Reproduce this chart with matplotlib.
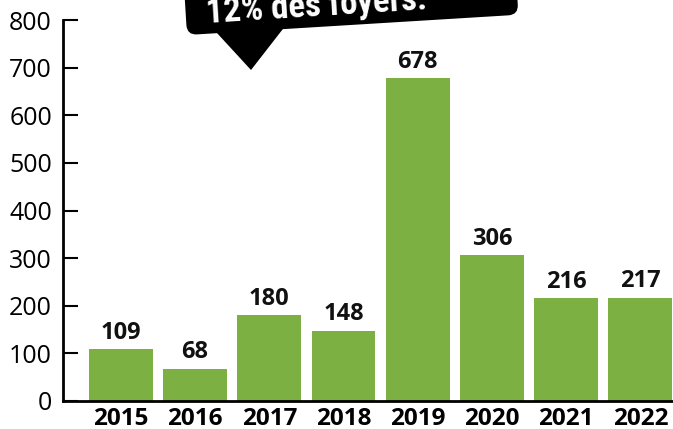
import matplotlib.pyplot as plt
from matplotlib.patches import FancyBboxPatch, Polygon
from matplotlib.transforms import Affine2D
from matplotlib import font_manager

### données
annees = ['2015', '2016', '2017', '2018', '2019', '2020', '2021', '2022']
valeurs = [109, 68, 180, 148, 678, 306, 216, 217]
graduations = [0, 100, 200, 300, 400, 500, 600, 700, 800]

vert = '#7cb042'

plt.rcParams['font.family'] = ['Open Sans', 'DejaVu Sans']

# police étroite pour la bulle si dispo
installees = {f.name for f in font_manager.fontManager.ttflist}
etroites = [n for n in ['DejaVu Sans Condensed', 'Liberation Sans Narrow', 'Roboto Condensed'] if n in installees]
if etroites:
    police_bulle, taille_bulle = etroites[0], 25
else:
    police_bulle, taille_bulle = 'Roboto', 22

fig = plt.figure(figsize=(6.73, 4.29), dpi=100)
ax = fig.add_axes([63 / 673, 28 / 429, 1 - 63 / 673, (401 - 20) / 429])

pos = list(range(len(annees)))
barres = ax.bar(pos, valeurs, width=0.86, color=vert, zorder=2)

### étiquettes au-dessus des barres
for x, v in zip(pos, valeurs):
    ax.annotate(str(v), (x, v), xytext=(0, 3), textcoords='offset points',
                ha='center', va='bottom', fontsize=17, fontweight='bold', color='#111111')

ax.set_xlim(-0.78, 7.44)
ax.set_ylim(0, 800)
ax.set_yticks(graduations)
ax.set_yticklabels([str(g) for g in graduations], fontsize=18)
ax.set_xticks(pos)
ax.set_xticklabels(annees, fontsize=17.5, fontweight='bold')

ax.spines['top'].set_visible(False)
ax.spines['right'].set_visible(False)
ax.spines['left'].set_linewidth(2)
ax.spines['bottom'].set_linewidth(2)
ax.tick_params(axis='y', direction='in', length=11, width=1.5, pad=8)
ax.tick_params(axis='x', length=0, pad=4)

### bulle noire en haut (coupée par le bord)
rot = Affine2D().rotate_deg(3.5).translate(1.87, 3.94) + fig.dpi_scale_trans
bulle = FancyBboxPatch((0, 0), 3.32, 0.8, boxstyle='round,pad=0,rounding_size=0.1',
                       fc='black', ec='none', transform=rot, clip_on=False)
fig.add_artist(bulle)
pointe = Polygon([(2.096, 4.04), (2.86, 4.04), (2.51, 3.59)], closed=True,
                 fc='black', ec='none', transform=fig.dpi_scale_trans, clip_on=False)
fig.add_artist(pointe)
fig.text(2.07, 4.06, '12% des foyers.', transform=fig.dpi_scale_trans, rotation=3.6,
         rotation_mode='anchor', ha='left', va='baseline', color='white',
         fontsize=taille_bulle, fontweight='bold', family=[police_bulle, 'DejaVu Sans'])

fig.savefig('out.png', dpi=100)
